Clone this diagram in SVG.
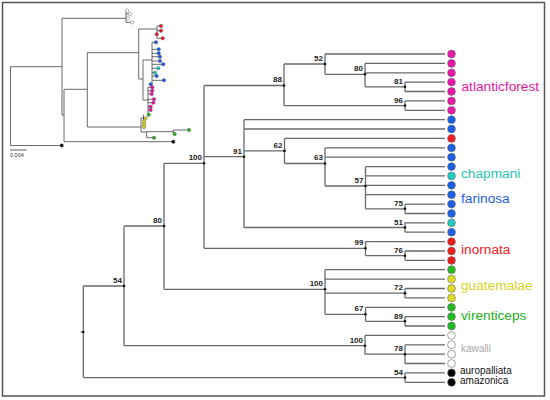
<svg xmlns="http://www.w3.org/2000/svg" width="550" height="400" viewBox="0 0 550 400">
<style>
.br{fill:none;stroke:#6a6a6a;stroke-width:1.3}
.ib{fill:none;stroke:#444;stroke-width:0.8}
.nd{fill:#111}
.bs{font-family:"Liberation Sans",Arial,sans-serif;font-size:8px;font-weight:bold;fill:#222;text-anchor:end}
.tp{stroke:#666;stroke-width:0.6}
.lab{font-family:"Liberation Sans",Arial,sans-serif;font-size:13.7px}
.sm{font-family:"Liberation Sans",Arial,sans-serif;font-size:10px}
.mg{fill:#EC16A8}.bl{fill:#1A5FE6}.cy{fill:#22CCC0}.rd{fill:#EE1C1C}.ye{fill:#DDDD22}.gr{fill:#22BB22}.wh{fill:#fff}.bk{fill:#000}
</style>
<rect x="2.5" y="2.5" width="542" height="393.5" fill="#fff" stroke="#555" stroke-width="1.5"/>

<g id="inset">
<path class="ib" d="M10.5 66.7V145.5M10.5 145.5H61.7M10.5 66.7H62M62 18.3V115M62 18.3H126M126 10.7V22.3M126 10.7H127M126 14H130M126 22.3H132M62 115H64M64 89.3V141.7M64 141.7H173.3M64 89.3H87.3M87.3 52.7V127M87.3 52.7H138.7M87.3 127H141M138.7 29V79M138.7 29H157M157 26V38.3M157 26H161M157 30.7H161M157 38.3H162.7M138.7 79H143M143 60V100M143 60H152M152 42.3V84.3M152 42.3H156M152 49.3H158.7M152 53.3H158.7M152 56.7H160M152 61H160M152 64.3H163.3M152 68.3H158.3M152 72.7H155M152 76H156.7M152 80.3H164M152 84.3H150.7M143 100H148M148 87.3V114.7M148 87.3H152.3M148 90.7H152.3M148 94H151.7M148 99.3H154M148 102.7H153.3M148 106.7H150.7M148 110H150.7M141 118V132M141 118H143.5M143.5 114.7V127M143.5 121.7H144M143.5 124.3H144M141 132H146.7M146.7 131.7V137.7M146.7 137.7H154M146.7 131.7H173.3M173.3 130V134M173.3 130H189M173.3 134H174.7"/>
<g stroke="#444" stroke-width="0.4">
<circle cx="61.7" cy="145.5" r="1.7" class="bk"/><circle cx="173.3" cy="141.7" r="1.7" class="bk"/>
<circle cx="127" cy="10.7" r="1.7" class="wh"/><circle cx="130" cy="14" r="1.7" class="wh"/><circle cx="128" cy="18.3" r="1.7" class="wh"/><circle cx="132" cy="22.3" r="1.7" class="wh"/>
<circle cx="161" cy="26" r="1.7" class="rd"/><circle cx="161" cy="30.7" r="1.7" class="rd"/><circle cx="156.7" cy="34.3" r="1.7" class="rd"/><circle cx="162.7" cy="38.3" r="1.7" class="rd"/>
<circle cx="156" cy="42.3" r="1.7" class="bl"/><circle cx="158.7" cy="49.3" r="1.7" class="bl"/><circle cx="158.7" cy="53.3" r="1.7" class="bl"/><circle cx="160" cy="56.7" r="1.7" class="bl"/><circle cx="160" cy="61" r="1.7" class="bl"/><circle cx="163.3" cy="64.3" r="1.7" class="bl"/><circle cx="158.3" cy="68.3" r="1.7" class="cy"/><circle cx="155" cy="72.7" r="1.7" class="cy"/><circle cx="156.7" cy="76" r="1.7" class="bl"/><circle cx="164" cy="80.3" r="1.7" class="bl"/><circle cx="150.7" cy="84.3" r="1.7" class="bl"/>
<circle cx="152.3" cy="87.3" r="1.7" class="mg"/><circle cx="152.3" cy="90.7" r="1.7" class="mg"/><circle cx="151.7" cy="94" r="1.7" class="mg"/><circle cx="154" cy="99.3" r="1.7" class="mg"/><circle cx="153.3" cy="102.7" r="1.7" class="mg"/><circle cx="150.7" cy="106.7" r="1.7" class="mg"/><circle cx="150.7" cy="110" r="1.7" class="mg"/>
<circle cx="148.7" cy="114.7" r="1.7" class="gr"/>
<circle cx="145.7" cy="118.3" r="1.7" class="ye"/><circle cx="144" cy="121.7" r="1.7" class="ye"/><circle cx="144" cy="124.3" r="1.7" class="ye"/><circle cx="144" cy="127" r="1.7" class="ye"/>
<circle cx="154" cy="137.7" r="1.7" class="gr"/><circle cx="174.7" cy="134" r="1.7" class="gr"/><circle cx="189" cy="130" r="1.7" class="gr"/>
</g>
<path d="M10 150H26.7" stroke="#333" stroke-width="0.8"/>
<text x="10" y="157" font-family="'Liberation Sans',Arial,sans-serif" font-size="5.5" fill="#333">0.004</text>
</g>

<g id="connectors" class="br">
<path d="M405 82.1V91.5M405 82.1H445M405 91.5H445"/>
<path d="M365 63.4V86.8M365 63.4H445M365 72.8H445M365 86.8H405"/>
<path d="M325 54V74.3M325 54H445M325 74.3H365"/>
<path d="M405 100.9V110.3M405 100.9H445M405 110.3H445"/>
<path d="M284 64V105.6M284 64H325M284 105.6H405"/>
<path d="M204 85.5V248.3M204 85.5H284M204 156.7H244M204 248.3H365.5"/>
<path d="M244 119.7V227.5M244 119.7H445M244 129H445M244 150.9H284.5M244 227.5H405"/>
<path d="M284.5 138.4V163.5M284.5 138.4H445M284.5 163.5H325"/>
<path d="M325 147.8V186M325 147.8H445M325 157.2H445M325 186H365.5"/>
<path d="M365.5 166.6V208.8M365.5 166.6H445M365.5 175.9H445M365.5 185.3H445M365.5 194.7H445M365.5 208.8H405"/>
<path d="M405 204.1V213.5M405 204.1H445M405 213.5H445"/>
<path d="M405 222.8V232.2M405 222.8H445M405 232.2H445"/>
<path d="M365.5 241.6V255.7M365.5 241.6H445M365.5 255.7H405"/>
<path d="M405 251V260.4M405 251H445M405 260.4H445"/>
<path d="M164 163.3V289.3M164 163.3H204M164 289.3H325"/>
<path d="M325 269.7V314.3M325 269.7H445M325 279.1H445M325 293.2H405M325 314.3H365.5"/>
<path d="M405 288.5V297.9M405 288.5H445M405 297.9H445"/>
<path d="M365.5 307.3V321.3M365.5 307.3H445M365.5 321.3H405"/>
<path d="M405 316.6V326M405 316.6H445M405 326H445"/>
<path d="M124 226V345.7M124 226H164M124 345.7H365"/>
<path d="M365 335.4V354.2M365 335.4H445M365 354.2H405"/>
<path d="M405 344.8V363.5M405 344.8H445M405 354.2H445M405 363.5H445"/>
<path d="M83.3 286V377.6M83.3 286H124M83.3 377.6H405M80.8 332H83.3"/>
<path d="M405 372.9V382.3M405 372.9H445M405 382.3H445"/>
</g>

<g id="internal-nodes">
<g id="n52"><circle class="nd" cx="325" cy="64" r="1.3"/><text class="bs" x="323" y="61">52</text></g>
<g id="n80a"><circle class="nd" cx="365" cy="74.3" r="1.3"/><text class="bs" x="363" y="71.3">80</text></g>
<g id="n81"><circle class="nd" cx="405" cy="86.8" r="1.3"/><text class="bs" x="403" y="84">81</text></g>
<g id="n96"><circle class="nd" cx="405" cy="105.6" r="1.3"/><text class="bs" x="403" y="102.8">96</text></g>
<g id="n88"><circle class="nd" cx="284" cy="85.5" r="1.3"/><text class="bs" x="282" y="82.3">88</text></g>
<g id="n100a"><circle class="nd" cx="204" cy="163.3" r="1.3"/><text class="bs" x="202" y="160">100</text></g>
<g id="n91"><circle class="nd" cx="244" cy="156.7" r="1.3"/><text class="bs" x="242" y="153.5">91</text></g>
<g id="n62"><circle class="nd" cx="284.5" cy="150.9" r="1.3"/><text class="bs" x="282.5" y="147.8">62</text></g>
<g id="n63"><circle class="nd" cx="325" cy="163.5" r="1.3"/><text class="bs" x="323" y="160.4">63</text></g>
<g id="n57"><circle class="nd" cx="365.5" cy="186" r="1.3"/><text class="bs" x="363.5" y="183">57</text></g>
<g id="n75"><circle class="nd" cx="405" cy="208.8" r="1.3"/><text class="bs" x="403" y="206">75</text></g>
<g id="n51"><circle class="nd" cx="405" cy="227.5" r="1.3"/><text class="bs" x="403" y="224.7">51</text></g>
<g id="n99"><circle class="nd" cx="365.5" cy="248.3" r="1.3"/><text class="bs" x="363.5" y="245.3">99</text></g>
<g id="n76"><circle class="nd" cx="405" cy="255.7" r="1.3"/><text class="bs" x="403" y="252.9">76</text></g>
<g id="n80"><circle class="nd" cx="164" cy="226" r="1.3"/><text class="bs" x="162" y="223">80</text></g>
<g id="n100b"><circle class="nd" cx="325" cy="289.3" r="1.3"/><text class="bs" x="323" y="286.2">100</text></g>
<g id="n72"><circle class="nd" cx="405" cy="293.2" r="1.3"/><text class="bs" x="403" y="290.4">72</text></g>
<g id="n67"><circle class="nd" cx="365.5" cy="314.3" r="1.3"/><text class="bs" x="363.5" y="311.3">67</text></g>
<g id="n89"><circle class="nd" cx="405" cy="321.3" r="1.3"/><text class="bs" x="403" y="318.5">89</text></g>
<g id="n54"><circle class="nd" cx="124" cy="286" r="1.3"/><text class="bs" x="122" y="283">54</text></g>
<g id="n100c"><circle class="nd" cx="365" cy="345.7" r="1.3"/><text class="bs" x="363" y="342.7">100</text></g>
<g id="n78"><circle class="nd" cx="405" cy="354.2" r="1.3"/><text class="bs" x="403" y="351.2">78</text></g>
<g id="root"><circle class="nd" cx="83.3" cy="332" r="1.2"/></g>
<g id="n54b"><circle class="nd" cx="405" cy="377.6" r="1.3"/><text class="bs" x="403" y="374.8">54</text></g>
</g>

<g id="tips" class="tp">
<circle class="mg" cx="451.5" cy="54" r="3.9"/>
<circle class="mg" cx="451.5" cy="63.4" r="3.9"/>
<circle class="mg" cx="451.5" cy="72.8" r="3.9"/>
<circle class="mg" cx="451.5" cy="82.1" r="3.9"/>
<circle class="mg" cx="451.5" cy="91.5" r="3.9"/>
<circle class="mg" cx="451.5" cy="100.9" r="3.9"/>
<circle class="mg" cx="451.5" cy="110.3" r="3.9"/>
<circle class="bl" cx="451.5" cy="119.7" r="3.9"/>
<circle class="bl" cx="451.5" cy="129" r="3.9"/>
<circle class="rd" cx="451.5" cy="138.4" r="3.9"/>
<circle class="bl" cx="451.5" cy="147.8" r="3.9"/>
<circle class="bl" cx="451.5" cy="157.2" r="3.9"/>
<circle class="bl" cx="451.5" cy="166.6" r="3.9"/>
<circle class="cy" cx="451.5" cy="175.9" r="3.9"/>
<circle class="bl" cx="451.5" cy="185.3" r="3.9"/>
<circle class="bl" cx="451.5" cy="194.7" r="3.9"/>
<circle class="bl" cx="451.5" cy="204.1" r="3.9"/>
<circle class="bl" cx="451.5" cy="213.5" r="3.9"/>
<circle class="cy" cx="451.5" cy="222.8" r="3.9"/>
<circle class="bl" cx="451.5" cy="232.2" r="3.9"/>
<circle class="rd" cx="451.5" cy="241.6" r="3.9"/>
<circle class="rd" cx="451.5" cy="251" r="3.9"/>
<circle class="rd" cx="451.5" cy="260.4" r="3.9"/>
<circle class="gr" cx="451.5" cy="269.7" r="3.9"/>
<circle class="ye" cx="451.5" cy="279.1" r="3.9"/>
<circle class="ye" cx="451.5" cy="288.5" r="3.9"/>
<circle class="ye" cx="451.5" cy="297.9" r="3.9"/>
<circle class="gr" cx="451.5" cy="307.3" r="3.9"/>
<circle class="gr" cx="451.5" cy="316.6" r="3.9"/>
<circle class="gr" cx="451.5" cy="326" r="3.9"/>
<circle class="wh" cx="451.5" cy="335.4" r="3.9"/>
<circle class="wh" cx="451.5" cy="344.8" r="3.9"/>
<circle class="wh" cx="451.5" cy="354.2" r="3.9"/>
<circle class="wh" cx="451.5" cy="363.5" r="3.9"/>
<circle class="bk" cx="451.5" cy="372.9" r="3.9"/>
<circle class="bk" cx="451.5" cy="382.3" r="3.9"/>
</g>

<g id="group-labels">
<text class="lab" x="461.5" y="91" fill="#E6189F">atlanticforest</text>
<text class="lab" x="461" y="178.3" fill="#27C4B0">chapmani</text>
<text class="lab" x="461" y="203.3" fill="#1E5BD8">farinosa</text>
<text class="lab" x="461" y="254.3" fill="#EE1C1C">inornata</text>
<text class="lab" x="461" y="290" fill="#D4D41C">guatemalae</text>
<text class="lab" x="461" y="320" fill="#22B022">virenticeps</text>
<text class="sm" x="461" y="352.3" fill="#A8A8A8">kawalli</text>
<text class="sm" x="460" y="374" fill="#111">auropalliata</text>
<text class="sm" x="460" y="384.3" fill="#111">amazonica</text>
</g>
</svg>
